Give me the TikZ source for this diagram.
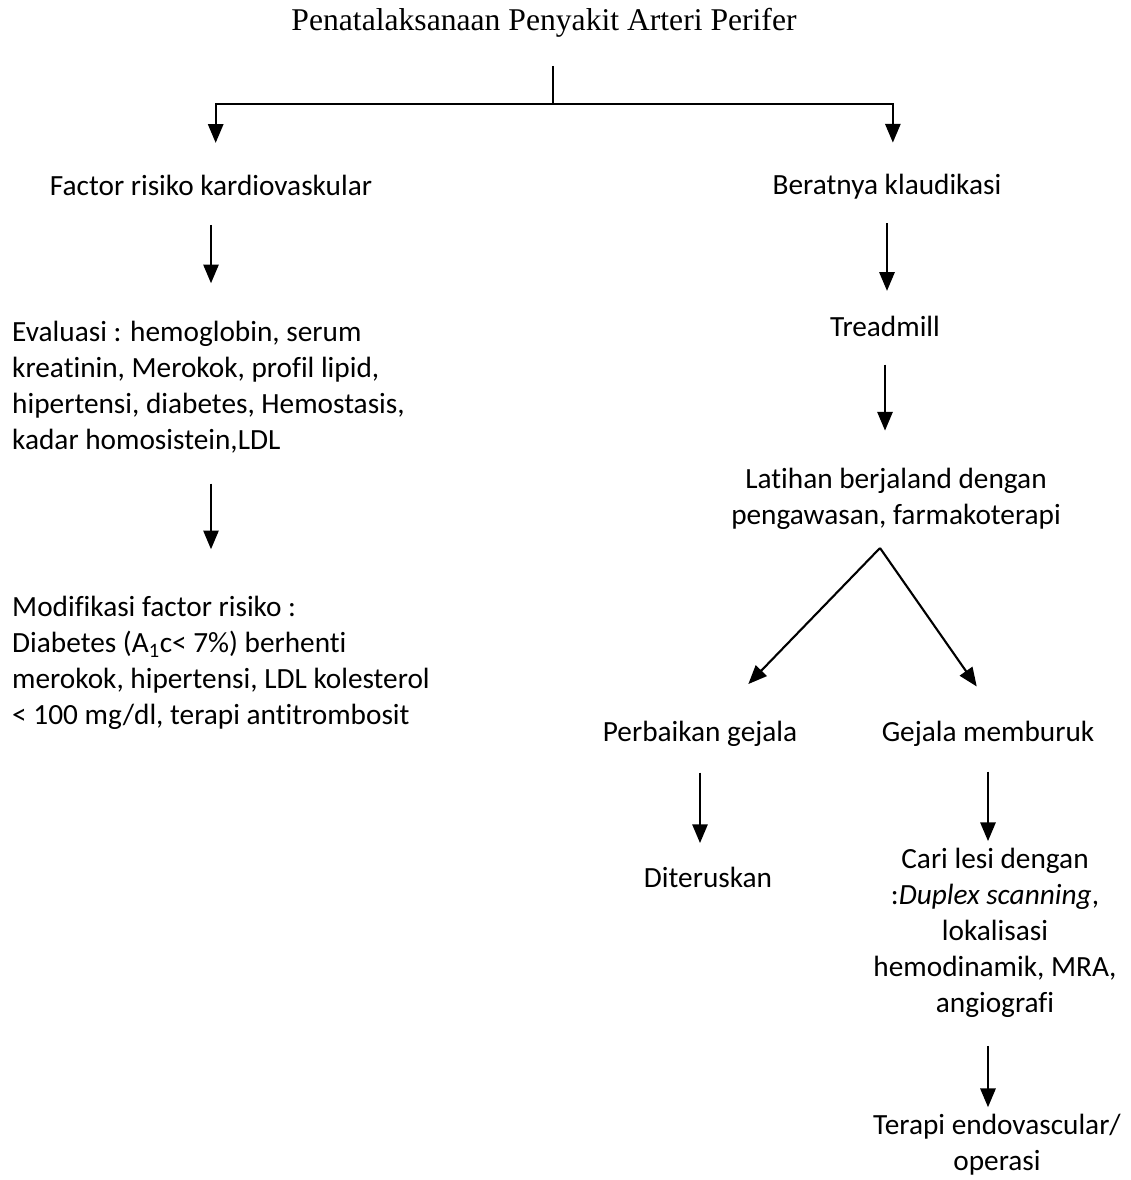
\documentclass[tikz,border=0pt]{standalone}
\usepackage{fontspec}
\setmainfont{Carlito}[Ligatures=NoCommon]
\newfontfamily\titlefont{Liberation Serif}
\usetikzlibrary{arrows.meta}

\begin{document}
\begin{tikzpicture}[x=0.03cm, y=-0.03cm,
  txt/.style={inner sep=0pt, font=\fontsize{25}{30.7}\selectfont},
  ln/.style={line width=1.8pt},
  arr/.style={ln, -{Triangle[length=16pt,width=13pt]}}]
  \useasboundingbox (0,0) rectangle (1131,1180);
  \node[inner sep=0pt, font=\titlefont\fontsize{27}{32}\selectfont] (title) at (544,23)
    {Penatalaksanaan Penyakit Arteri Perifer};
  % left branch
  \node[txt] (fk) at (211,185) {Factor risiko kardiovaskular};
  \node[txt, anchor=west, align=left] (ev) at (12,387)
    {Evaluasi : hemoglobin, serum\\kreatinin, Merokok, profil lipid,\\
     hipertensi, diabetes, Hemostasis,\\kadar homosistein,LDL};
  \node[txt, anchor=west, align=left] (mf) at (12,663)
    {Modifikasi factor risiko :\\Diabetes (A\textsubscript{1}c< 7\%) berhenti\\
     merokok, hipertensi, LDL kolesterol\\< 100 mg/dl, terapi antitrombosit};
  % right branch
  \node[txt] (bk) at (887,187) {Beratnya klaudikasi};
  \node[txt] (tm) at (885,326) {Treadmill};
  \node[txt, align=center] (lt) at (896,499)
    {Latihan berjaland dengan\\pengawasan, farmakoterapi};
  \node[txt] (pg) at (700,734) {Perbaikan gejala};
  \node[txt] (gm) at (988,734) {Gejala memburuk};
  \node[txt] (dt) at (708,877) {Diteruskan};
  \node[txt, align=center] (cl) at (995,933)
    {Cari lesi dengan\\:\textit{Duplex scanning},\\lokalisasi\\hemodinamik, MRA,\\angiografi};
  \node[txt, align=center] (te) at (997,1145) {Terapi endovascular/\\operasi};
  \coordinate (split) at (553,104);
  \coordinate (fork) at (880,548);

  \draw[ln, shorten <=24pt] (title.south -| split) -- (split);
  \draw[arr, shorten >=27pt] (split) -| ([xshift=4pt]fk.north);
  \draw[arr, shorten >=27pt] (split) -| ([xshift=5pt]bk.north);
  \draw[arr, shorten <=25pt, shorten >=32pt] (fk.south) -- (fk.south |- ev.north);
  \draw[arr, shorten <=26pt, shorten >=40pt] (ev.south -| fk) -- (fk |- mf.north);
  \draw[arr, shorten <=20pt, shorten >=21pt] (bk.south) -- (bk.south |- tm.north);
  \draw[arr, shorten <=24pt, shorten >=32pt] (tm.south) -- (tm.south |- lt.north);
  \draw[arr, shorten >=44pt] (fork) -- (pg);
  \draw[arr, shorten >=36pt] (fork) -- ([xshift=11pt]gm.north);
  \draw[arr, shorten <=22pt, shorten >=20pt] (pg.south) -- (pg.south |- dt.north);
  \draw[arr, shorten <=21pt, shorten >=6pt] (gm.south) -- (gm.south |- cl.north);
  \draw[arr, shorten <=24pt, shorten >=6pt] (cl.south -| gm) -- (gm |- te.north);
\end{tikzpicture}
\end{document}
